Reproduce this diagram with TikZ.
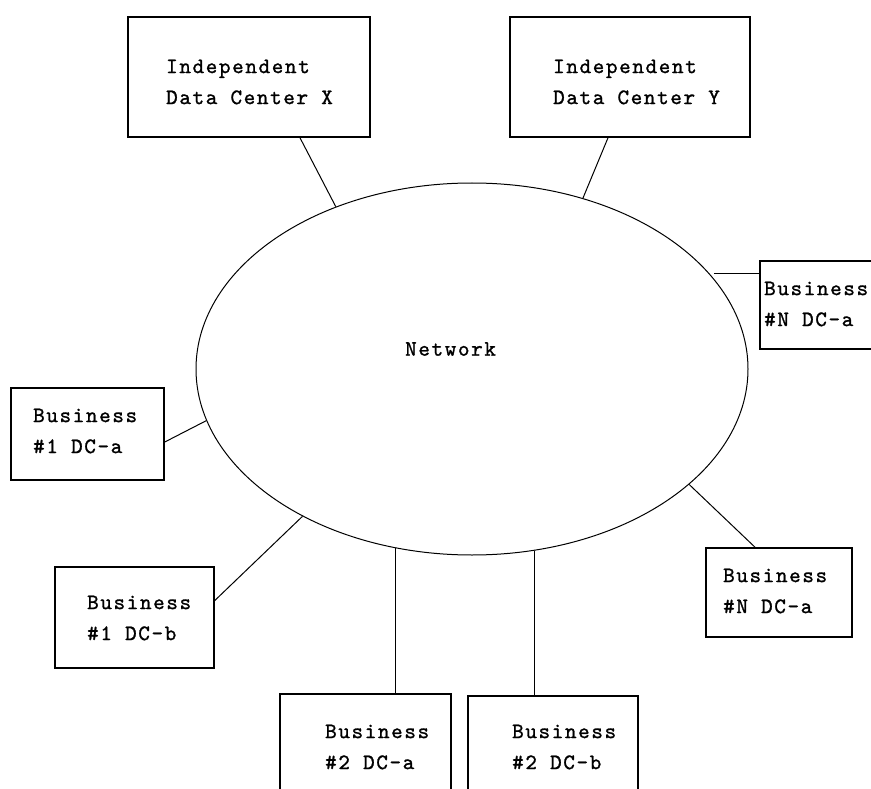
\documentclass[tikz,border=0pt]{standalone}
\usepackage{fontspec}
\newfontfamily\typewr{lmmono10-regular.otf}[LetterSpace=7.5, FakeBold=1.2]
\usetikzlibrary{shapes.geometric}
\tikzset{
  box/.style={draw, line width=1.6pt, rectangle, inner sep=0pt},
  lbl/.style={font={\typewr\fontsize{22}{31}\selectfont}, align=left, inner sep=0pt, anchor=west},
  link/.style={draw, line width=1pt},
}
\begin{document}
\begin{tikzpicture}[x=1pt, y=-1pt]
\path[use as bounding box] (0,0) rectangle (871,789);
\clip (0,0) rectangle (871,789);

% central network
\node[ellipse, draw, line width=1pt, minimum width=552, minimum height=372, inner sep=0pt] (net) at (472,369) {};
\node[lbl] (netlbl) at (405,349) {Network};

% data centre boxes
\node[box, minimum width=242, minimum height=120] (dcx) at (249,77) {};
\node[lbl] (dcxlbl) at (166,82) {Independent\\Data Center X};
\node[box, minimum width=240, minimum height=120] (dcy) at (630,77) {};
\node[lbl] (dcylbl) at (553,82) {Independent\\Data Center Y};

\node[box, minimum width=130, minimum height=88] (bna) at (825,305) {};
\node[lbl] (bnalbl) at (764,304) {Business\\\#N DC-a};

\node[box, minimum width=153, minimum height=92] (b1a) at (87.5,434) {};
\node[lbl] (b1albl) at (33,431) {Business\\\#1 DC-a};

\node[box, minimum width=159, minimum height=101] (b1b) at (134.5,617.5) {};
\node[lbl] (b1blbl) at (87,618) {Business\\\#1 DC-b};

\node[box, minimum width=146, minimum height=89] (bnb) at (779,592.5) {};
\node[lbl] (bnblbl) at (723,591) {Business\\\#N DC-a};

\node[box, minimum width=171, minimum height=130] (b2a) at (365.5,759) {};
\node[lbl] (b2albl) at (325,747) {Business\\\#2 DC-a};

\node[box, minimum width=170, minimum height=130] (b2b) at (553,761) {};
\node[lbl] (b2blbl) at (512,747) {Business\\\#2 DC-b};

% connectors
\draw[link] ([xshift=51pt]dcx.south) -- (net.130);
\draw[link] ([xshift=-22pt]dcy.south) -- (net.57);
\draw[link] ([xshift=5pt]net.22) -- (net.22 -| bna.west);
\draw[link] ([yshift=-8pt]b1a.east) -- (net.191);
\draw[link] ([yshift=17pt]b1b.east) -- (net.221);
\draw[link] ([xshift=-24pt]bnb.north) -- (net.332);
\draw[link] (net.247) -- (net.247 |- b2a.north);
\draw[link] (net.289) -- (net.289 |- b2b.north);
\end{tikzpicture}
\end{document}
